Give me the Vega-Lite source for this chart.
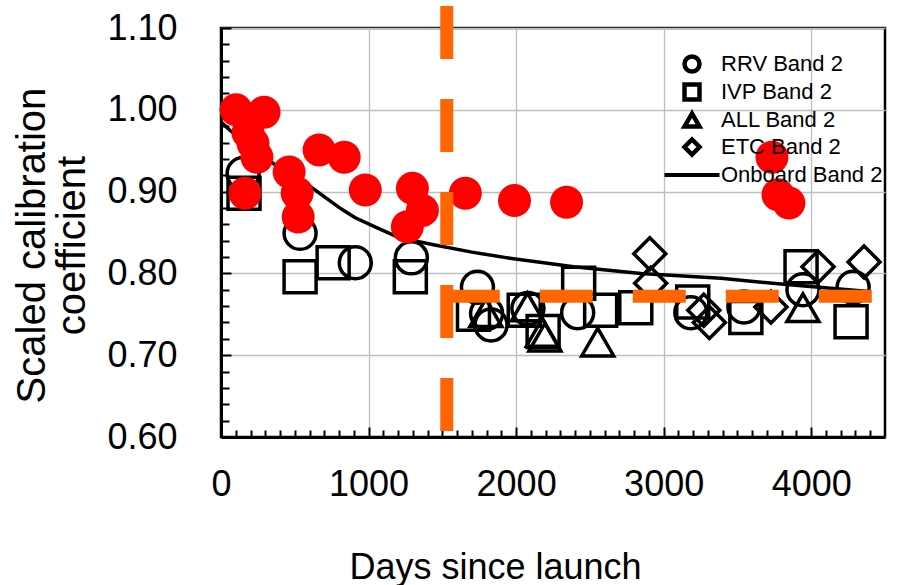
{
  "$schema": "https://vega.github.io/schema/vega-lite/v6.json",
  "width": 664,
  "height": 409,
  "autosize": "none",
  "padding": {"left": 221, "top": 28, "right": 15, "bottom": 148},
  "background": "white",
  "config": {
    "font": "Liberation Sans",
    "view": {"stroke": "black", "strokeWidth": 2.5},
    "axis": {
      "domainColor": "black",
      "domainWidth": 3,
      "tickColor": "black",
      "tickWidth": 2,
      "labelFont": "Liberation Sans",
      "labelFontSize": 36,
      "labelColor": "black",
      "titleFont": "Liberation Sans",
      "titleFontSize": 36,
      "titleFontWeight": "normal",
      "titleColor": "black",
      "gridColor": "#bebebe",
      "gridWidth": 1.3
    }
  },
  "resolve": {"axis": {"x": "independent", "y": "independent"}},
  "datasets": {
    "onboard": [
      {"d": 7, "v": 0.984}, {"d": 60, "v": 0.975}, {"d": 150, "v": 0.962},
      {"d": 250, "v": 0.948}, {"d": 350, "v": 0.935}, {"d": 450, "v": 0.922},
      {"d": 591, "v": 0.908}, {"d": 706, "v": 0.893}, {"d": 821, "v": 0.878},
      {"d": 910, "v": 0.868}, {"d": 1066, "v": 0.855}, {"d": 1202, "v": 0.844},
      {"d": 1440, "v": 0.835}, {"d": 1700, "v": 0.826}, {"d": 1942, "v": 0.819},
      {"d": 2390, "v": 0.808}, {"d": 2845, "v": 0.8}, {"d": 3388, "v": 0.794},
      {"d": 3795, "v": 0.787}, {"d": 4390, "v": 0.778}
    ],
    "vicarious": [
      {"s": "RRV Band 2", "d": 150, "v": 0.922},
      {"s": "RRV Band 2", "d": 536, "v": 0.849},
      {"s": "RRV Band 2", "d": 910, "v": 0.813},
      {"s": "RRV Band 2", "d": 1290, "v": 0.819},
      {"s": "RRV Band 2", "d": 1738, "v": 0.783},
      {"s": "RRV Band 2", "d": 1800, "v": 0.751},
      {"s": "RRV Band 2", "d": 1830, "v": 0.737},
      {"s": "RRV Band 2", "d": 2080, "v": 0.757},
      {"s": "RRV Band 2", "d": 2417, "v": 0.752},
      {"s": "RRV Band 2", "d": 3184, "v": 0.752},
      {"s": "RRV Band 2", "d": 3544, "v": 0.759},
      {"s": "RRV Band 2", "d": 3944, "v": 0.78},
      {"s": "RRV Band 2", "d": 4284, "v": 0.783},
      {"s": "IVP Band 2", "d": 156, "v": 0.898},
      {"s": "IVP Band 2", "d": 536, "v": 0.796},
      {"s": "IVP Band 2", "d": 760, "v": 0.813},
      {"s": "IVP Band 2", "d": 1283, "v": 0.796},
      {"s": "IVP Band 2", "d": 1711, "v": 0.75},
      {"s": "IVP Band 2", "d": 2055, "v": 0.755},
      {"s": "IVP Band 2", "d": 2183, "v": 0.729},
      {"s": "IVP Band 2", "d": 2424, "v": 0.788},
      {"s": "IVP Band 2", "d": 2573, "v": 0.755},
      {"s": "IVP Band 2", "d": 2811, "v": 0.758},
      {"s": "IVP Band 2", "d": 3197, "v": 0.765},
      {"s": "IVP Band 2", "d": 3557, "v": 0.746},
      {"s": "IVP Band 2", "d": 3931, "v": 0.808},
      {"s": "IVP Band 2", "d": 4270, "v": 0.741},
      {"s": "ALL Band 2", "d": 1795, "v": 0.752},
      {"s": "ALL Band 2", "d": 2077, "v": 0.759},
      {"s": "ALL Band 2", "d": 2178, "v": 0.728},
      {"s": "ALL Band 2", "d": 2195, "v": 0.722},
      {"s": "ALL Band 2", "d": 2553, "v": 0.716},
      {"s": "ALL Band 2", "d": 3944, "v": 0.758},
      {"s": "ETC Band 2", "d": 2906, "v": 0.824},
      {"s": "ETC Band 2", "d": 2912, "v": 0.788},
      {"s": "ETC Band 2", "d": 3272, "v": 0.755},
      {"s": "ETC Band 2", "d": 3310, "v": 0.74},
      {"s": "ETC Band 2", "d": 3727, "v": 0.759},
      {"s": "ETC Band 2", "d": 4046, "v": 0.808},
      {"s": "ETC Band 2", "d": 4358, "v": 0.814}
    ],
    "additional": [
      {"d": 102, "v": 1.0}, {"d": 292, "v": 0.997}, {"d": 183, "v": 0.972},
      {"d": 217, "v": 0.959}, {"d": 244, "v": 0.942}, {"d": 163, "v": 0.898},
      {"d": 462, "v": 0.924}, {"d": 516, "v": 0.898}, {"d": 523, "v": 0.869},
      {"d": 665, "v": 0.951}, {"d": 835, "v": 0.942}, {"d": 978, "v": 0.902},
      {"d": 1297, "v": 0.904}, {"d": 1263, "v": 0.857}, {"d": 1365, "v": 0.877},
      {"d": 1656, "v": 0.898}, {"d": 1989, "v": 0.889}, {"d": 2342, "v": 0.887},
      {"d": 3734, "v": 0.942}, {"d": 3775, "v": 0.896}, {"d": 3849, "v": 0.886}
    ],
    "breakpoint": [{"d": 1530, "v": 1.127, "v2": 0.605}],
    "plateau": [{"d": 1530, "d2": 4426, "v": 0.772}]
  },
  "layer": [
    {
      "data": {"name": "onboard"},
      "mark": {"type": "line", "color": "black", "strokeWidth": 3.5},
      "encoding": {
        "x": {
          "field": "d",
          "type": "quantitative",
          "scale": {"domain": [0, 4500], "nice": false, "zero": false},
          "axis": {
            "orient": "bottom",
            "title": "Days since launch",
            "titleX": 274,
            "titleY": 141,
            "titleBaseline": "alphabetic",
            "titleAlign": "center",
            "values": [0, 1000, 2000, 3000, 4000],
            "format": "d",
            "labelPadding": 40,
            "labelFlush": false,
            "labelOverlap": false,
            "tickSize": -10,
            "grid": true
          }
        },
        "y": {
          "field": "v",
          "type": "quantitative",
          "scale": {"domain": [0.6, 1.1], "nice": false, "zero": false},
          "axis": {
            "orient": "left",
            "title": ["Scaled calibration", "coefficient"],
            "titleAngle": -90,
            "titleX": -177,
            "titleY": 217,
            "titleAlign": "center",
            "titleBaseline": "alphabetic",
            "titleLineHeight": 40,
            "titleFontSize": 40,
            "values": [0.6, 0.7, 0.8, 0.9, 1.0, 1.1],
            "format": ".2f",
            "labelPadding": 54,
            "labelFlush": false,
            "labelOverlap": false,
            "tickSize": -10,
            "grid": true
          }
        }
      }
    },
    {
      "data": {"name": "vicarious"},
      "mark": {"type": "point", "filled": false, "color": "black", "strokeWidth": 3.5, "size": 1024, "opacity": 1},
      "encoding": {
        "x": {
          "field": "d",
          "type": "quantitative",
          "axis": {
            "orient": "bottom",
            "title": null,
            "values": [100,200,300,400,500,600,700,800,900,1100,1200,1300,1400,1500,1600,1700,1800,1900,2100,2200,2300,2400,2500,2600,2700,2800,2900,3100,3200,3300,3400,3500,3600,3700,3800,3900,4100,4200,4300,4400],
            "labels": false,
            "domain": false,
            "grid": false,
            "tickSize": -7
          }
        },
        "y": {
          "field": "v",
          "type": "quantitative",
          "axis": {
            "orient": "left",
            "title": null,
            "values": [0.62,0.64,0.66,0.68,0.72,0.74,0.76,0.78,0.82,0.84,0.86,0.88,0.92,0.94,0.96,0.98,1.02,1.04,1.06,1.08],
            "labels": false,
            "domain": false,
            "grid": false,
            "tickSize": -8
          }
        },
        "shape": {
          "field": "s",
          "type": "nominal",
          "scale": {
            "domain": ["RRV Band 2", "IVP Band 2", "ALL Band 2", "ETC Band 2", "Onboard Band 2"],
            "range": ["circle", "square", "triangle-up", "diamond", "stroke"]
          },
          "legend": {
            "orient": "none",
            "legendX": 460,
            "legendY": 25,
            "title": null,
            "padding": 0,
            "labelFont": "Liberation Sans",
            "labelFontSize": 22,
            "labelColor": "black",
            "labelLimit": 400,
            "labelOffset": 18,
            "rowPadding": -12,
            "symbolSize": 225,
            "symbolStrokeWidth": 4.5,
            "symbolStrokeColor": "black",
            "symbolFillColor": "transparent",
            "encoding": {
              "symbols": {
                "size": {"value": {"expr": "datum.value === 'Onboard Band 2' ? 3025 : 225"}},
                "strokeWidth": {"value": {"expr": "datum.value === 'Onboard Band 2' ? 4 : 4.5"}}
              }
            }
          }
        }
      }
    },
    {
      "data": {"name": "additional"},
      "mark": {"type": "circle", "color": "#ff0000", "size": 1089, "opacity": 1},
      "encoding": {
        "x": {"field": "d", "type": "quantitative", "axis": null},
        "y": {"field": "v", "type": "quantitative", "axis": null}
      }
    },
    {
      "data": {"name": "breakpoint"},
      "mark": {"type": "rule", "color": "#ff6600", "strokeWidth": 13, "strokeDash": [53, 40], "strokeCap": "butt"},
      "encoding": {
        "x": {"field": "d", "type": "quantitative", "axis": null},
        "y": {"field": "v", "type": "quantitative", "axis": null},
        "y2": {"field": "v2"}
      }
    },
    {
      "data": {"name": "plateau"},
      "mark": {"type": "rule", "color": "#ff6600", "strokeWidth": 13, "strokeDash": [53, 40], "strokeCap": "butt"},
      "encoding": {
        "y": {"field": "v", "type": "quantitative", "axis": null},
        "x": {"field": "d", "type": "quantitative", "axis": null},
        "x2": {"field": "d2"}
      }
    }
  ]
}
